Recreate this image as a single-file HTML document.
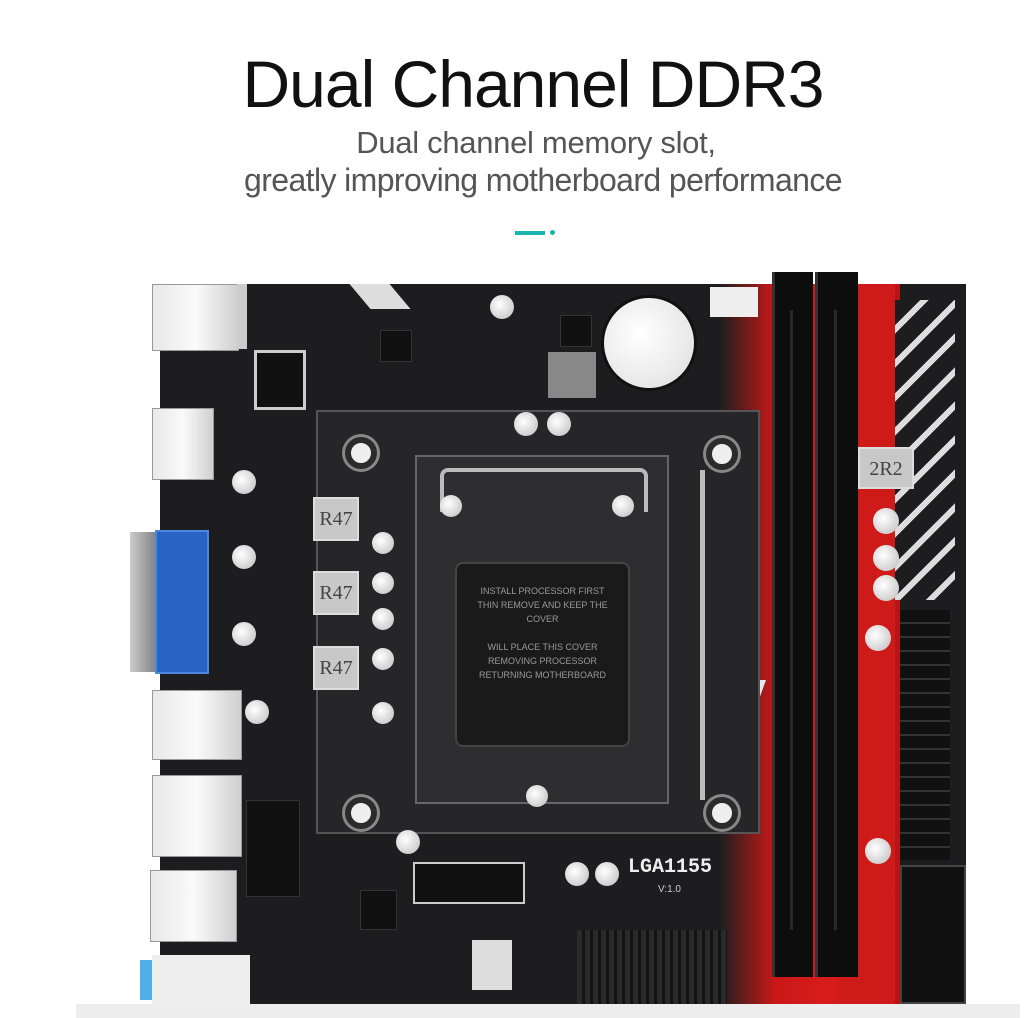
<!DOCTYPE html>
<html><head><meta charset="utf-8"><style>
body{margin:0;width:1024px;height:1018px;background:#fff;position:relative;overflow:hidden;font-family:"Liberation Sans",sans-serif}
.a{position:absolute}
.t{color:#111;font-size:66px;left:0;width:1066px;text-align:center;top:46px;letter-spacing:-1px}
.s{color:#555;font-size:31px;text-align:center;left:0;letter-spacing:-0.3px}
.port{background:linear-gradient(90deg,#e8e8e8,#fafafa,#cfcfcf);border:1px solid #999}
.ind{background:#c8c8c8;border:2px solid #ddd;color:#444;font-family:"Liberation Serif",serif;font-size:20px;text-align:center;line-height:40px}
.cap{border-radius:50%;background:radial-gradient(circle at 40% 40%,#fff,#bbb);}
.hole{border-radius:50%;background:#eee;border:6px solid #2b2b2b;box-shadow:0 0 0 3px #888}
.chip{background:#111;border:1px solid #333}
</style></head><body>
<div class="a t">Dual Channel DDR3</div>
<div class="a s" style="top:125px;width:1072px">Dual channel memory slot,</div>
<div class="a s" style="top:162px;width:1086px;font-size:32px;letter-spacing:-0.6px">greatly improving motherboard performance</div>
<div class="a" style="left:515px;top:231px;width:30px;height:4px;background:#19b5b0"></div>
<div class="a" style="left:550px;top:230px;width:5px;height:5px;border-radius:50%;background:#19b5b0"></div>

<div class="a" style="left:160px;top:284px;width:806px;height:720px;background:#1d1d1f"></div>
<div class="a" style="left:720px;top:284px;width:180px;height:720px;background:linear-gradient(90deg,rgba(200,20,20,0),#c81818 30%,#d81c1c 60%,#b51515)"></div>
<div class="a" style="left:840px;top:284px;width:55px;height:720px;background:#cf1a1a"></div>
<div class="a" style="left:360px;top:284px;width:40px;height:25px;background:#ddd;transform:skewX(40deg)"></div>
<div class="a" style="left:700px;top:620px;width:18px;height:120px;background:#ddd;transform:skewX(-30deg)"></div>
<div class="a" style="left:730px;top:680px;width:16px;height:110px;background:#e8e8e8;transform:skewX(-20deg)"></div>
<div class="a" style="left:895px;top:300px;width:60px;height:300px;background:repeating-linear-gradient(135deg,#1d1d1f 0 18px,#ddd 18px 24px)"></div>
<div class="a" style="left:316px;top:410px;width:440px;height:420px;border:2px solid #555;background:#262628"></div>
<div class="a hole" style="left:345px;top:437px;width:20px;height:20px"></div>
<div class="a hole" style="left:706px;top:438px;width:20px;height:20px"></div>
<div class="a hole" style="left:345px;top:797px;width:20px;height:20px"></div>
<div class="a hole" style="left:706px;top:797px;width:20px;height:20px"></div>
<div class="a" style="left:415px;top:455px;width:250px;height:345px;background:#2e2e30;border:2px solid #666"></div>
<div class="a" style="left:440px;top:468px;width:200px;height:40px;border:4px solid #bbb;border-bottom:none;border-radius:8px 8px 0 0"></div>
<div class="a" style="left:455px;top:562px;width:175px;height:185px;background:#1a1a1a;border:2px solid #444;border-radius:8px;color:#999;font-size:9px;text-align:center;padding-top:20px;box-sizing:border-box;line-height:14px">INSTALL PROCESSOR FIRST<br>THIN REMOVE AND KEEP THE<br>COVER<br><br>WILL PLACE THIS COVER<br>REMOVING PROCESSOR<br>RETURNING MOTHERBOARD</div>
<div class="a" style="left:700px;top:470px;width:5px;height:330px;background:#bbb"></div>
<div class="a cap" style="left:440px;top:495px;width:22px;height:22px"></div>
<div class="a cap" style="left:612px;top:495px;width:22px;height:22px"></div>
<div class="a cap" style="left:526px;top:785px;width:22px;height:22px"></div>
<div class="a" style="left:601px;top:295px;width:90px;height:90px;border-radius:50%;background:radial-gradient(circle at 40% 40%,#fff,#ddd);border:3px solid #111"></div>
<div class="a" style="left:548px;top:352px;width:48px;height:46px;background:#888"></div>
<div class="a" style="left:710px;top:287px;width:48px;height:30px;background:#eee"></div>
<div class="a" style="left:772px;top:272px;width:38px;height:705px;background:#0d0d0d;border-left:3px solid #333"></div>
<div class="a" style="left:815px;top:272px;width:40px;height:705px;background:#0d0d0d;border-left:3px solid #333"></div>
<div class="a" style="left:790px;top:310px;width:3px;height:620px;background:#2a2a2a"></div>
<div class="a" style="left:834px;top:310px;width:3px;height:620px;background:#2a2a2a"></div>
<div class="a" style="left:900px;top:610px;width:50px;height:250px;background:repeating-linear-gradient(0deg,#111 0 12px,#333 12px 14px)"></div>
<div class="a" style="left:900px;top:865px;width:62px;height:135px;background:#111;border:2px solid #444"></div>
<div class="a ind" style="left:858px;top:447px;width:52px;height:38px">2R2</div>
<div class="a port" style="left:152px;top:284px;width:85px;height:65px"></div>
<div class="a" style="left:237px;top:284px;width:10px;height:65px;background:#ccc"></div>
<div class="a port" style="left:152px;top:408px;width:60px;height:70px"></div>
<div class="a" style="left:130px;top:532px;width:30px;height:140px;background:linear-gradient(90deg,#ccc,#777)"></div>
<div class="a" style="left:155px;top:530px;width:50px;height:140px;background:#2a63c6;border:2px solid #4d88e0"></div>
<div class="a port" style="left:152px;top:690px;width:88px;height:68px"></div>
<div class="a port" style="left:152px;top:775px;width:88px;height:80px"></div>
<div class="a port" style="left:150px;top:870px;width:85px;height:70px"></div>
<div class="a" style="left:152px;top:955px;width:98px;height:50px;background:#eee"></div>
<div class="a" style="left:140px;top:960px;width:12px;height:40px;background:#4fb0e8"></div>
<div class="a" style="left:254px;top:350px;width:46px;height:54px;background:#111;border:3px solid #ccc"></div>
<div class="a ind" style="left:313px;top:497px;width:42px;height:40px">R47</div>
<div class="a ind" style="left:313px;top:571px;width:42px;height:40px">R47</div>
<div class="a ind" style="left:313px;top:646px;width:42px;height:40px">R47</div>
<div class="a cap" style="left:372px;top:532px;width:22px;height:22px"></div>
<div class="a cap" style="left:372px;top:572px;width:22px;height:22px"></div>
<div class="a cap" style="left:372px;top:608px;width:22px;height:22px"></div>
<div class="a cap" style="left:372px;top:648px;width:22px;height:22px"></div>
<div class="a cap" style="left:372px;top:702px;width:22px;height:22px"></div>
<div class="a cap" style="left:232px;top:470px;width:24px;height:24px"></div>
<div class="a cap" style="left:232px;top:545px;width:24px;height:24px"></div>
<div class="a cap" style="left:232px;top:622px;width:24px;height:24px"></div>
<div class="a cap" style="left:245px;top:700px;width:24px;height:24px"></div>
<div class="a cap" style="left:514px;top:412px;width:24px;height:24px"></div>
<div class="a cap" style="left:547px;top:412px;width:24px;height:24px"></div>
<div class="a cap" style="left:490px;top:295px;width:24px;height:24px"></div>
<div class="a cap" style="left:873px;top:508px;width:26px;height:26px"></div>
<div class="a cap" style="left:873px;top:545px;width:26px;height:26px"></div>
<div class="a cap" style="left:873px;top:575px;width:26px;height:26px"></div>
<div class="a cap" style="left:865px;top:625px;width:26px;height:26px"></div>
<div class="a cap" style="left:865px;top:838px;width:26px;height:26px"></div>
<div class="a cap" style="left:396px;top:830px;width:24px;height:24px"></div>
<div class="a cap" style="left:565px;top:862px;width:24px;height:24px"></div>
<div class="a cap" style="left:595px;top:862px;width:24px;height:24px"></div>
<div class="a" style="left:413px;top:862px;width:108px;height:38px;background:#111;border:2px solid #ccc"></div>
<div class="a" style="left:628px;top:856px;color:#eee;font-size:20px;font-family:'Liberation Mono',monospace;font-weight:bold">LGA1155</div>
<div class="a" style="left:658px;top:884px;color:#ccc;font-size:10px">V:1.0</div>
<div class="a" style="left:577px;top:930px;width:150px;height:75px;background:repeating-linear-gradient(90deg,#2a2a2a 0 5px,#141414 5px 8px)"></div>
<div class="a" style="left:472px;top:940px;width:40px;height:50px;background:#ddd"></div>
<div class="a chip" style="left:360px;top:890px;width:35px;height:38px"></div>
<div class="a chip" style="left:246px;top:800px;width:52px;height:95px"></div>
<div class="a chip" style="left:380px;top:330px;width:30px;height:30px"></div>
<div class="a chip" style="left:560px;top:315px;width:30px;height:30px"></div>
<div class="a" style="left:76px;top:1004px;width:944px;height:14px;background:#ededed"></div>
</body></html>
